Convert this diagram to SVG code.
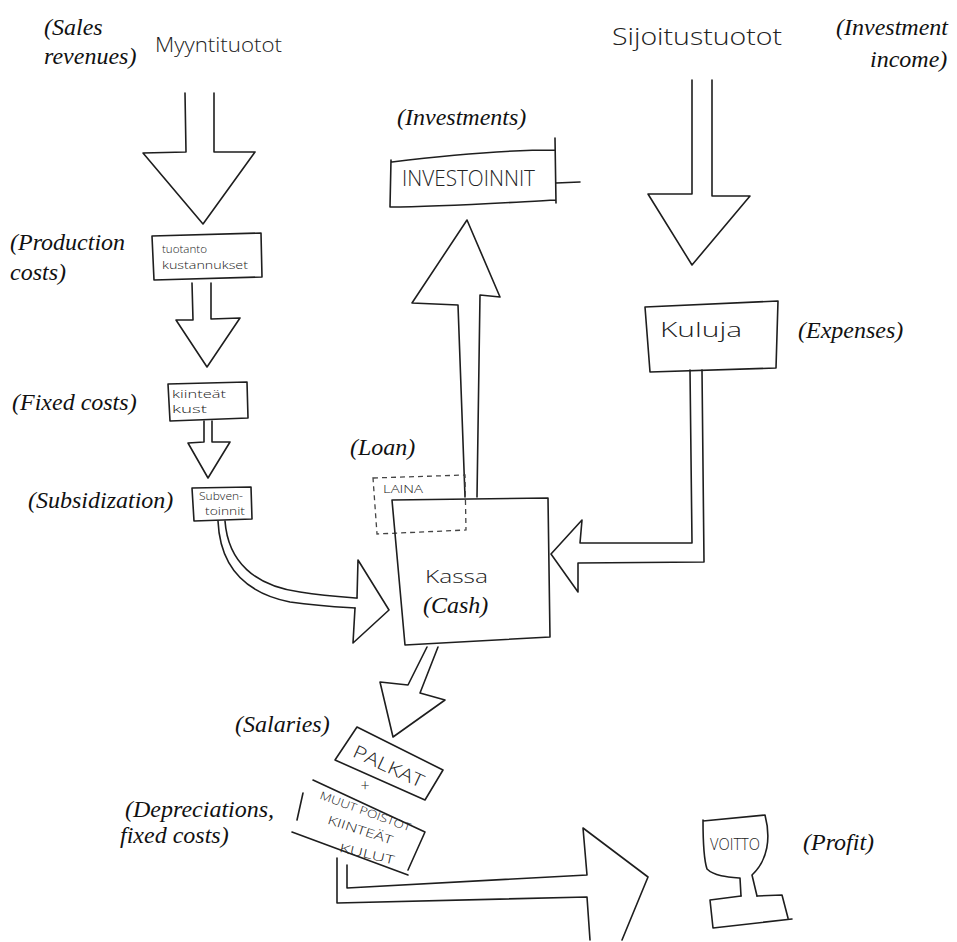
<svg xmlns="http://www.w3.org/2000/svg" width="957" height="942" viewBox="0 0 957 942">
<style>
.ln{fill:none;stroke:#1e1e1e;stroke-width:1.6;stroke-linecap:round;stroke-linejoin:round}
.ar{fill:#fff;stroke:#1e1e1e;stroke-width:1.6;stroke-linecap:round;stroke-linejoin:round}
.dash{fill:none;stroke:#444;stroke-width:1.3;stroke-dasharray:5 4}
.lbl{font-family:"Liberation Serif","Times New Roman",serif;font-style:italic;font-size:24px;fill:#111}
.hw{font-family:"Open Sans","DejaVu Sans",sans-serif;font-weight:300;fill:#222}
</style>
<rect width="957" height="942" fill="#fff"/>

<g id="connectors">
  <path class="ar" d="M185,93 L186,152 L143,153 L203,224 L255,152 L214,152 L214,93"/>
  <path class="ar" d="M192,283 L193,320 L176,320 L207,367 L240,318 L211,319 L211,283"/>
  <path class="ar" d="M204,421 L204,442 L188,443 L208,478 L230,442 L212,442 L212,421"/>
  <path class="ln" d="M225,521 C228,562 255,586 300,592 C325,596 343,597 357,598"/>
  <path class="ln" d="M218,521 C220,566 245,593 290,602 C318,606 338,607 355,608"/>
  <path class="ln" d="M357,598 L358,560 L389,610 L353,643 L355,608"/>
  <path class="ar" d="M465,497 L458,305 L412,303 L467,220 L500,297 L480,295 L477,497"/>
  <path class="ar" d="M692,80 L692,194 L648,194 L692,265 L750,196 L712,196 L712,80"/>
  <path class="ln" d="M690,370 L692,543 L580,543 L582,520 L551,554 L578,592 L578,563 L704,562 L702,370"/>
  <path class="ar" d="M427,647 L408,685 L380,682 L393,737 L445,700 L420,693 L438,647"/>
  <path class="ln" d="M347,865 L347,888 L587,875 L583,828 L648,877 L622,940"/>
  <path class="ln" d="M337,858 L337,903 L587,897 L590,940"/>
</g>

<g id="sales-revenues">
  <text class="lbl" x="44" y="35">(Sales</text>
  <text class="lbl" x="44" y="64">revenues)</text>
  <text class="hw" x="155" y="52" font-size="21" textLength="127" lengthAdjust="spacingAndGlyphs">Myyntituotot</text>
</g>

<g id="production-costs">
  <path class="ln" d="M152,236 L261,233 L262,277 L154,280 Z"/>
  <text class="hw" x="162" y="253" font-size="11" textLength="45" lengthAdjust="spacingAndGlyphs">tuotanto</text>
  <text class="hw" x="162" y="269" font-size="10" textLength="86" lengthAdjust="spacingAndGlyphs">kustannukset</text>
  <text class="lbl" x="10" y="250">(Production</text>
  <text class="lbl" x="10" y="280">costs)</text>
</g>

<g id="fixed-costs">
  <path class="ln" d="M168,384 L247,382 L248,418 L170,421 Z"/>
  <text class="hw" x="172" y="398" font-size="10" textLength="54" lengthAdjust="spacingAndGlyphs">kiinteät</text>
  <text class="hw" x="172" y="413" font-size="10" textLength="35" lengthAdjust="spacingAndGlyphs">kust</text>
  <text class="lbl" x="12" y="410">(Fixed costs)</text>
</g>

<g id="subsidization">
  <path class="ln" d="M192,488 L251,487 L252,519 L194,521 Z"/>
  <text class="hw" x="199" y="500" font-size="10" textLength="44" lengthAdjust="spacingAndGlyphs">Subven-</text>
  <text class="hw" x="205" y="515" font-size="10" textLength="40" lengthAdjust="spacingAndGlyphs">toinnit</text>
  <text class="lbl" x="28" y="508">(Subsidization)</text>
</g>

<g id="investments">
  <path class="ln" d="M392,162 C440,156 500,150 555,150 M555,138 L556,203 M556,200 C500,203 440,207 390,207 L391,160 M556,183 L580,182"/>
  <text class="hw" x="402" y="186" font-size="22" textLength="133" lengthAdjust="spacingAndGlyphs">INVESTOINNIT</text>
  <text class="lbl" x="397" y="125">(Investments)</text>
</g>

<g id="investment-income">
  <text class="hw" x="612" y="45" font-size="23" textLength="170" lengthAdjust="spacingAndGlyphs">Sijoitustuotot</text>
  <text class="lbl" x="836" y="35">(Investment</text>
  <text class="lbl" x="870" y="67">income)</text>
</g>

<g id="expenses">
  <path class="ln" d="M645,307 L778,301 L776,368 L650,372 Z"/>
  <text class="hw" x="660" y="337" font-size="21" textLength="82" lengthAdjust="spacingAndGlyphs">Kuluja</text>
  <text class="lbl" x="798" y="338">(Expenses)</text>
</g>

<g id="loan">
  <path class="dash" d="M373,478 L465,475 L466,530 L377,534 Z"/>
  <text class="hw" x="383" y="493" font-size="11" textLength="40" lengthAdjust="spacingAndGlyphs">LAINA</text>
  <text class="lbl" x="350" y="455">(Loan)</text>
</g>

<g id="cash">
  <path class="ln" d="M392,500 L548,498 L550,637 L405,645 Z"/>
  <text class="hw" x="425" y="583" font-size="18" textLength="63" lengthAdjust="spacingAndGlyphs">Kassa</text>
  <text class="lbl" x="423" y="613" font-size="25">(Cash)</text>
</g>

<g id="salaries">
  <path class="ln" d="M357,727 L443,770 L425,800 L335,760 Z"/>
  <text class="hw" font-size="18" transform="translate(386,772) rotate(25)" text-anchor="middle" textLength="76" lengthAdjust="spacingAndGlyphs">PALKAT</text>
  <text class="hw" x="365" y="791" font-size="16" text-anchor="middle">+</text>
  <text class="lbl" x="235" y="732">(Salaries)</text>
</g>

<g id="depreciations">
  <path class="ln" d="M313,780 L425,832 M425,832 L408,870 M408,875 L292,832 M303,793 L297,820"/>
  <text class="hw" font-size="11" transform="translate(364,815) rotate(20)" text-anchor="middle" textLength="96" lengthAdjust="spacingAndGlyphs">MUUT POISTOT</text>
  <text class="hw" font-size="12" transform="translate(359,834) rotate(18)" text-anchor="middle" textLength="68" lengthAdjust="spacingAndGlyphs">KIINTEÄT</text>
  <text class="hw" font-size="12" transform="translate(366,858) rotate(13)" text-anchor="middle" textLength="56" lengthAdjust="spacingAndGlyphs">KULUT</text>
  <text class="lbl" x="125" y="817">(Depreciations,</text>
  <text class="lbl" x="120" y="843">fixed costs)</text>
</g>

<g id="profit">
  <path class="ln" d="M703,821 L765,815 C771,838 768,860 752,875 L757,896 M703,820 C703,845 704,860 707,869 C714,876 728,877 740,878 L741,896"/>
  <path class="ln" d="M710,900 L741,896 M757,896 L782,895 L788,918 M713,928 L792,919 M710,900 L713,928"/>
  <text class="hw" x="710" y="850" font-size="16" textLength="50" lengthAdjust="spacingAndGlyphs">VOITTO</text>
  <text class="lbl" x="803" y="850">(Profit)</text>
</g>
</svg>
